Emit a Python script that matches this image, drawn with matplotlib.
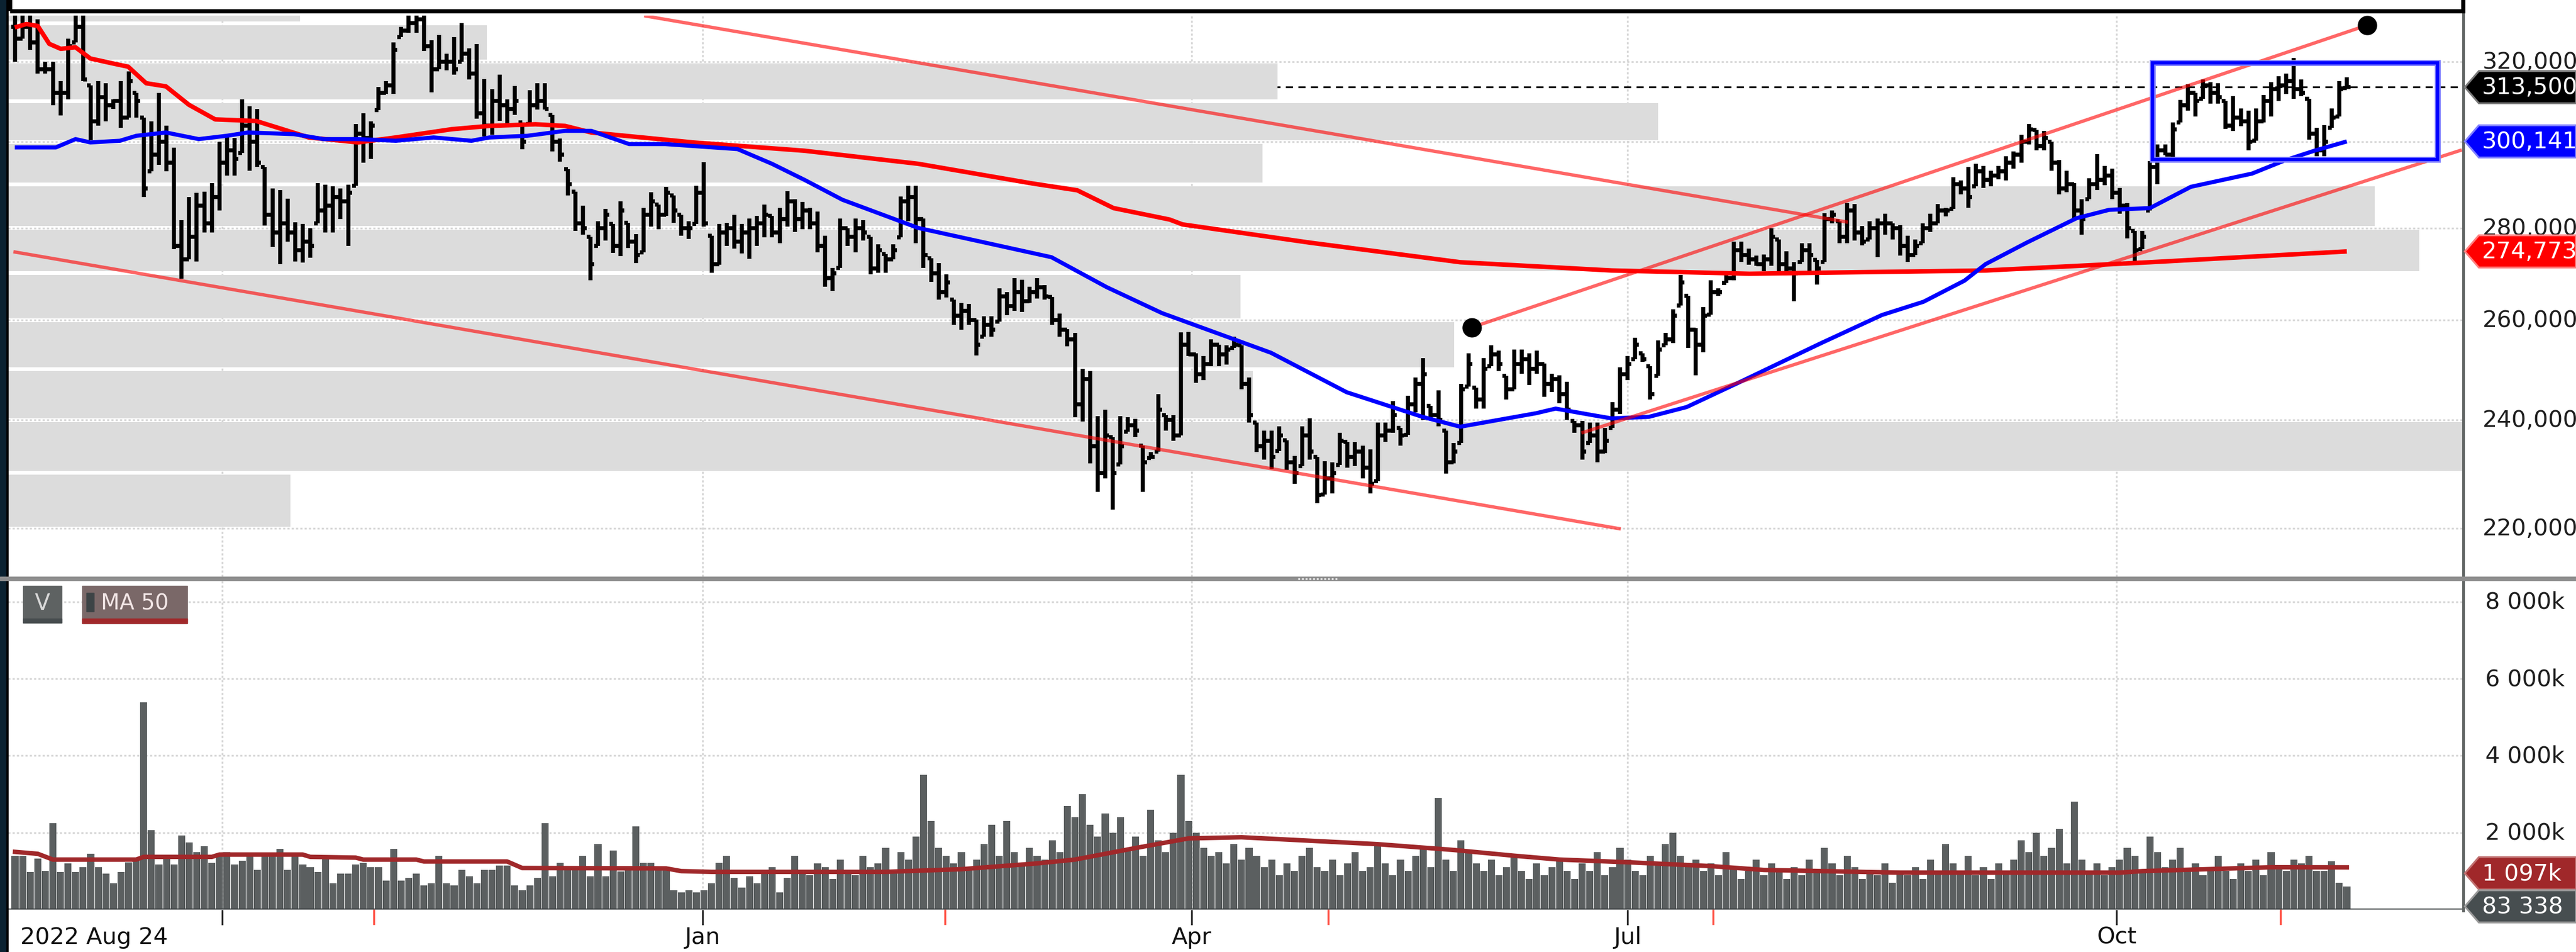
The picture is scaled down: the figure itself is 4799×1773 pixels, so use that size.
import numpy as np
import matplotlib
matplotlib.use("Agg")
import matplotlib.pyplot as plt
from matplotlib.patches import Rectangle, Polygon
from matplotlib.lines import Line2D
import matplotlib.transforms as mtransforms

plt.rcParams['font.family'] = ['DejaVu Sans']

# ---------------- data (prices in thousands) ----------------
high = [333,332,332,331,320,320,315,326,332,332,314,315,314.5,310.5,315,317.5,312,306,305,312,
        304,298.7,281.7,287,288,288.3,290.3,300,301.7,301,310.5,308.7,308,294,289,288.7,286.6,281.3,280.9,280,
        290.3,289.9,289.5,289,289.9,304.3,307,305,313.6,315,325,329,332.5,332.5,332,325.6,327,322,326.4,330,
        323.4,324.5,315.6,313,316.7,310.5,313.8,304.8,312.7,314.5,314.5,306.6,300.8,293.6,288.3,285,278,281.5,284.3,280.9,
        286,281.2,278.6,284.6,288.2,285.3,289.4,287.4,283,281.5,289.7,295.2,278.3,280.9,281.2,283,280.9,282.1,282.7,285.3,
        282.7,284.6,288.4,286.5,285.9,284.6,283.7,278.3,271.2,282.1,279.9,282.1,281.8,278,276.3,274.2,276.3,287.2,289.7,289.7,
        282.1,273.3,272.2,269.8,264.3,263.7,263.4,260.2,260.8,260.8,266.8,265.9,268.9,268.6,267.1,268.9,267.4,264.9,261.4,258.2,
        257.4,250.1,249.6,240.7,242,236.7,240.7,240.5,240.2,235.1,233.9,245,241,241,257.5,257.6,253.2,252.7,256.1,255,
        254.8,256.6,254.8,248.3,239.5,238,238,238.8,236.1,233.2,238.8,240.3,233,232.2,232,237.5,235.8,235.8,235.1,234.4,
        239.5,239.5,243.7,238.5,244.7,248.3,252.2,242.7,245.8,238,235.6,247,253.2,246.3,252.2,254.8,253.7,248.6,254,254,
        253.2,253.7,251.1,249.1,248.8,247.5,239.8,239.8,239.5,239.5,238.5,243.5,250.4,252.7,256.4,253.2,250.6,255.8,257.4,262.3,
        269.6,265.1,258.4,262.8,268.5,266.8,269.6,277,277,275.4,273.8,274.1,279.9,277.4,274.8,272.4,276.6,276.6,272.9,283.4,
        284,281.5,285.7,285.4,280.4,281.5,282.1,283.2,281,280.7,278.2,277.4,281,283.2,285.4,284.6,291.7,290.9,294,294.8,
        294.3,293.1,294.3,296.6,297.7,301.7,304.4,302.9,302.6,300,295.7,293.1,290.3,286.5,291.4,297.1,294.3,293.7,289.2,285.7,
        279.4,279.4,295.4,299.4,299.4,304.7,310.3,314.2,312.1,315.4,314.8,314.5,310,311.2,308.2,307.6,308.2,311.5,314.8,316.3,
        316.9,320.9,315.4,310.6,303.5,304.1,308.2,315.1,316]
low = [320,326,323,317,317,309,306.5,310.5,325,315,300.5,304,305,308,303.5,306,306,287,293,294.5,
       293,275.3,268.8,273,272.6,279,279,284,292,292,297.4,293.2,294,280.5,275.7,272,276.9,272.6,272.3,273.4,
       281,279,279,282,276,289.7,295,296,307.8,311.8,311.8,326.4,327.5,327.5,322.7,312.2,318,317.7,316.7,320,
       315.4,305.7,301.3,301.7,305.2,304.3,306.6,298.3,304.3,307.9,307.9,297.8,295.3,287.4,279.3,278.5,268.5,276,277.2,274.5,
       273.7,275.5,272.2,274.6,280.3,279.7,282.7,281.2,278.2,277.6,280.9,280.3,270.1,271.9,276,275.4,274.3,273.1,276,277.9,
       277.9,276.6,280.3,279.1,279.7,279.7,274.6,267.1,266.2,271.2,276,274.6,277.2,269.8,270.1,270.1,273,277.9,281.5,276.6,
       271.2,268.1,264.3,264.8,259.1,258,259.1,252.8,256.6,256.6,259.7,261.1,262,261.7,263.7,264.6,264.3,259.1,256.6,254.6,
       240.5,239.7,231.8,226.5,229,223.3,231.6,237.7,236.7,226.5,232.8,234,238,236,237,252.7,247.3,247.8,250.6,250.6,
       250.9,254.3,246,239.5,233.9,232.5,230.8,234.1,230.6,228,231.3,232.5,224.5,226.1,226.3,231.5,231,231.3,229,226.3,
       228.5,235.8,237.5,235.1,237.1,241.5,240,240,238.8,229.9,231.8,235.6,246.5,242.2,242.2,250.6,249.6,244,246,249.1,
       246.8,249.1,244.5,245.5,243.2,240,237.5,232.5,235.6,232,233.7,238.5,241.2,247.8,252,251.4,244,248.6,254.8,255.3,
       263.1,254.3,248.8,253.4,261.2,265.1,267.9,268.5,272.5,271.9,271.6,270.4,271.6,270.4,270.4,264,272.4,270.4,267.6,272.4,
       281,276.6,276.6,277.2,276.1,277.4,273.5,278.5,277.4,273.8,272.4,274,276.6,279.1,281,282.6,284.3,287.6,284.6,289.5,
       289.2,289.5,291.1,290.9,293.7,295.1,299.4,298,298,293.1,287.6,288.1,282.1,278.5,286.5,288.7,289.8,286.5,283.2,277.7,
       272.4,275.3,284,290,296.8,295.1,304.7,307.6,306.2,310.6,309.4,309.4,303.2,302.6,303.8,298,300.3,304.7,306.2,310,
       311.8,310.6,311.2,300.6,296.6,296.6,303.5,306.2,313.3]
close = [326,329,325,318,318,312,312,324,329,315.5,305,311,309,310,306,315,310,289,297,300,
         295,276,273,278,285,281,287,295,298,296,304,300,295,283,279,281,279,275,277,276,
         284,285,287,286,288,302,301,304,312,314,323,328,330,331,324,318,320,320,318,322,
         317,307,304,310,309,308,310,300,309,310,308,300,297,290,281,280,272,280,283,276,
         284,277,274,283,286,283,288,284,280,280,288,281,272,279,280,277,279,280,281,283,
         279,282,286,282,284,281,276,269,270,280,278,280,279,271,275,273,275,286,287,282,
         274,270,266,268,261,262,260,255,259,258,265,263,266,264,266,267,265,260,258,256,
         243,248,235,230,237,230,235,239,238,232,233,242,240,237,255,253,249,251,255,253,
         254,255,247,241,235,236,233,237,232,230,237,234,226,229,230,236,233,234,231,228,
         237,238,241,237,243,247,249,241,240,232,234,246,251,244,250,253,251,246,251,252,
         250,251,247,248,245,242,239,234,237,234,236,242,249,251,255,252,245,254,256,261,
         268,258,255,261,266,266,269,275,274,273,272,273,278,272,271,270,275,274,271,282,
         283,278,284,279,277,280,281,281,280,276,274,276,280,281,284,284,290,289,287,293,
         291,292,293,295,297,300,303,299,301,295,289,290,284,282,290,291,292,288,285,280,
         275,278,294,298,297,303,309,312,310,314,312,311,304,306,305,300,305,310,313,314,
         315,313,312,302,298,300,306,313,313.5]
# volume in thousands of shares
volume = [1400,1400,980,1330,1000,2250,980,1200,980,1100,1450,1100,930,680,980,1230,1330,5390,2070,1170,
          1330,1170,1930,1750,1500,1640,1220,1410,1500,1170,1270,1400,1030,1400,1400,1580,1030,1400,1170,1100,
          980,1350,680,930,930,1170,1220,1100,1100,750,1580,750,820,930,630,680,1400,680,630,1030,
          870,680,1030,1030,1150,1140,630,500,630,820,2250,870,1220,1030,1030,1400,870,1700,870,1530,
          990,1030,2170,1220,1220,1030,1030,500,440,500,440,500,680,1220,1400,820,570,870,680,930,
          1100,440,820,1400,1000,900,1200,1100,800,1300,1000,900,1400,1100,1200,1600,1000,1500,1300,1900,
          3500,2300,1600,1400,1200,1500,1100,1300,1700,2200,1400,2300,1500,1200,1600,1400,1300,1800,1500,2700,
          2400,3000,2200,1900,2500,2000,2400,1600,1900,1400,2600,1800,1500,2000,3500,2300,2000,1600,1400,1500,
          1200,1700,1300,1600,1400,1100,1300,900,1200,1000,1400,1600,1100,1000,1300,900,1200,1500,1000,1100,
          1700,1200,900,1300,1000,1400,1600,1100,2900,1300,1000,1800,1500,1200,1000,1300,900,1100,1400,1000,
          800,1200,900,1100,1300,1000,800,1200,1000,1500,900,1100,1600,1300,1000,900,1400,1200,1700,2000,
          1400,1100,1300,1000,1200,900,1500,1100,800,1000,1300,900,1200,1000,800,1100,900,1300,1000,1600,
          1200,900,1400,1100,800,1000,900,1200,700,1000,900,1100,800,1300,1000,1700,1200,1000,1400,900,
          1100,800,1200,1000,1300,1800,1500,2000,1400,1600,2100,1200,2800,1300,1000,1200,900,1100,1300,1600,
          1400,1000,1900,1500,1100,1300,1600,1000,1200,900,1100,1400,1000,800,1200,1000,1300,900,1500,1100,
          1000,1300,1200,1400,1000,1000,1250,700,600]

# moving averages (bar index, value)
ma_fast_idx = [-0.03,5.39,7.99,9.95,13.85,16.02,19.93,24.27,27.95,30.78,36.85,40.76,45.31,50.30,55.29,60.28,62.67,
               67.66,72.65,76.12,81.11,85.88,95.43,99.98,104.3,109.3,119.3,128.2,136.9,144.2,151.5,165.9,175.9,
               185.9,190.9,200.9,203.5,208.5,210.9,215.8,220.8,227.8,238.6,246.6,252.1,257.5,260.3,265.7,272.3,
               276.6,282.0,287.4,295.5,299.8,303.7,308.0]
ma_fast_val = [298.7,298.7,300.7,299.9,300.3,301.5,302.3,300.7,301.5,302.3,301.9,300.7,300.7,300.3,301.1,300.3,301.1,
               301.5,302.7,302.7,299.5,299.5,298.3,294.8,291.0,286.4,280.0,276.7,273.5,267.0,261.5,253.3,245.4,
               240.6,238.7,241.3,242.2,240.9,240.3,240.6,242.5,247.4,255.3,261.1,263.9,268.4,272.0,276.7,282.2,
               284.1,284.5,289.4,292.5,295.6,297.9,300.141]
ma_slow_idx = [-0.03,1.49,3.0,4.52,6.04,7.99,9.95,12.98,14.94,17.32,19.93,22.97,26.44,31.86,35.33,38.80,45.31,
               50.30,57.68,62.67,68.74,72.65,76.12,89.57,104.3,119.3,134.3,140.3,145.1,152.5,154.2,171.1,190.9,
               210.9,229.1,260.3,282.0,308.0]
ma_slow_val = [328.9,329.8,329.3,324.6,323.3,323.7,320.8,319.5,318.7,314.5,313.7,309.1,305.5,305.1,303.1,301.1,299.9,
               301.1,303.1,303.9,304.3,303.9,302.3,299.9,297.9,294.8,290.2,288.6,284.5,281.9,280.8,276.7,272.4,
               270.6,269.9,270.6,272.4,274.773]
vol_ma_idx = [0,3,5,16,17,26,27,38,39,45,46,53,54,65,67,86,88,92,115,125,135,140,148,155,162,170,180,190,198,
              204,213,224,231,249,278,281,298,308]
vol_ma_val = [1500,1450,1300,1300,1370,1370,1430,1430,1370,1350,1300,1300,1250,1250,1080,1070,1000,980,980,1050,
              1200,1300,1600,1850,1880,1800,1700,1550,1400,1300,1230,1130,1030,960,960,1000,1100,1097]

# volume-by-price profile: 10k price bins and their relative volume (percent of widest)
profile_lo = [220,230,240,250,260,270,280,290,300,310,320,330]
profile_vol = [11.5,100,50.7,58.9,50.2,98.2,96.4,51.1,67.2,51.7,19.5,11.9]

# drawn trend lines (bar index, price)
trend_lines = [((-0.21, 274.7), (212.1, 219.9)),
               ((83.1, 332.0), (242.1, 281.3)),
               ((192.4, 258.5), (310.7, 329.5)),
               ((206.9, 237.5), (323.2, 298.1))]
pivot_dots = [(192.4, 258.5), (310.7, 329.5)]
range_box = (282.3, 320.0, 295.8, 319.7)   # idx0, idx1, price lo, price hi

price_ticks = [220000, 240000, 260000, 280000, 300000, 320000]
vol_ticks = [2000, 4000, 6000, 8000]
quarter_pos = [27.4, 90.8, 155.4, 213.0, 277.6]
quarter_lab = ['', 'Jan', 'Apr', 'Jul', 'Oct']
event_pos = [47.4, 122.9, 173.5, 224.3, 299.3]
first_date = '2022 Aug 24'
last_vol = 83338

# ---------------- figure ----------------
W, H, DPI = 4799, 1774, 100
fig = plt.figure(figsize=(W / DPI, H / DPI), dpi=DPI)
fig.patch.set_facecolor('white')

def fxp(px):
    return px / W

def fyp(py):
    return 1 - py / H

X0, X1 = 15, 4589
P_TOP, P_BOT = 30, 1075
V_TOP, V_BOT = 1082, 1695
BAR0, STEP = 28, 14.104
xlim = ((X0 - BAR0) / STEP, (X1 - BAR0) / STEP)

ax = fig.add_axes([fxp(X0), fyp(P_BOT), fxp(X1) - fxp(X0), fyp(P_TOP) - fyp(P_BOT)])
vax = fig.add_axes([fxp(X0), fyp(V_BOT), fxp(X1) - fxp(X0), fyp(V_TOP) - fyp(V_BOT)])
for a in (ax, vax):
    a.set_axis_off()
    a.set_xlim(*xlim)
ax.set_yscale('log')
ax.set_ylim(211629, 332050)
vax.set_ylim(0, 8555)

N = len(close)
x = np.arange(N)
hi = np.array(high) * 1000
lo = np.array(low) * 1000
cl = np.array(close) * 1000
op = np.concatenate([[329000], cl[:-1]])
op = np.clip(op, lo, hi)

GRID = '#d6d6d6'
# grid
for p in price_ticks:
    ax.axhline(p, color=GRID, lw=2.4, ls=(0, (1.2, 1.2)), zorder=0.5)
for v in vol_ticks:
    vax.axhline(v, color=GRID, lw=2.4, ls=(0, (1.2, 1.2)), zorder=0.5)
for q in quarter_pos:
    ax.axvline(q, color=GRID, lw=2.4, ls=(0, (1.2, 1.2)), zorder=0.5)
    vax.axvline(q, color=GRID, lw=2.4, ls=(0, (1.2, 1.2)), zorder=0.5)

# last price dashed line
ax.axhline(cl[-1], color='black', lw=2.4, ls=(0, (4, 3)), zorder=0.8)

# volume profile bands
for plo, pv in zip(profile_lo, profile_vol):
    ax.axhspan(plo * 1000 * 1.0015, (plo + 10) * 1000 * 0.9985, xmin=0, xmax=pv / 100,
               facecolor='#dcdcdc', lw=0, zorder=1)

# OHLC bars
BLW = 5.4
ax.vlines(x, lo, hi, color='black', lw=BLW, zorder=3, capstyle='butt')
ax.hlines(op, x - 0.5, x, color='black', lw=BLW, zorder=3, capstyle='butt')
ax.hlines(cl, x, x + 0.5, color='black', lw=BLW, zorder=3, capstyle='butt')

# moving averages
ax.plot(ma_slow_idx, np.array(ma_slow_val) * 1000, color='#ff0000', lw=6, zorder=4, solid_capstyle='butt')
ax.plot(ma_fast_idx, np.array(ma_fast_val) * 1000, color='#0000ff', lw=5.5, zorder=4, solid_capstyle='butt')

# trend lines
for (a0, b0) in trend_lines:
    ax.plot([a0[0], b0[0]], [a0[1] * 1000, b0[1] * 1000], color='#ff0000', alpha=0.6, lw=4.5,
            zorder=5, solid_capstyle='butt')
ax.plot([d[0] for d in pivot_dots], [d[1] * 1000 for d in pivot_dots], 'o', color='black', ms=25,
        zorder=7, clip_on=False)

# range box
i0, i1, r0, r1 = range_box
ax.add_patch(Rectangle((i0, r0 * 1000), i1 - i0, (r1 - r0) * 1000, fill=False, ec='#8080ff', lw=8, zorder=6))
ax.add_patch(Rectangle((i0, r0 * 1000), i1 - i0, (r1 - r0) * 1000, fill=False, ec='#0000ff', lw=4.5, zorder=6))

# volume
vax.bar(x, volume, width=0.93, color='#5b5f60', lw=0, zorder=2)
vax.plot(vol_ma_idx, vol_ma_val, color='#a0282a', lw=6, zorder=3)
vax.axhline(0, color='#3b4042', lw=3.6, zorder=4)

# ---------------- frame decorations ----------------
fig.add_artist(Rectangle((0, 0), fxp(12), 1, transform=fig.transFigure, color='#0b2231', zorder=20))
fig.add_artist(Rectangle((fxp(12), 0), fxp(3), 1, transform=fig.transFigure, color='#000000', zorder=20))
fig.add_artist(Rectangle((fxp(19), fyp(22)), fxp(X1) - fxp(19), fyp(-20) - fyp(22), transform=fig.transFigure,
                         fill=False, ec='black', lw=5.5, zorder=20))
fig.add_artist(Rectangle((0, fyp(1082)), 1, fyp(1075) - fyp(1082), transform=fig.transFigure,
                         color='#8e8e8e', zorder=20))
fig.add_artist(Line2D([fxp(2418), fxp(2494)], [fyp(1078.5)] * 2, transform=fig.transFigure,
                      color='#e6e6e6', lw=2.5, ls=(0, (1, 1)), zorder=21))
fig.add_artist(Line2D([fxp(4589)] * 2, [fyp(0), fyp(1697)], transform=fig.transFigure,
                      color='#5f6362', lw=3.6, zorder=19))

# volume legend boxes
fig.add_artist(Rectangle((fxp(43), fyp(1161)), fxp(72), fyp(1092) - fyp(1161), transform=fig.transFigure,
                         color='#5e6262', zorder=20))
fig.add_artist(Rectangle((fxp(43), fyp(1161)), fxp(72), fyp(1153) - fyp(1161), transform=fig.transFigure,
                         color='#464c4e', zorder=21))
fig.text(fxp(79), fyp(1124), 'V', ha='center', va='center', fontsize=30, color='#d8d8d8', zorder=22)
fig.add_artist(Rectangle((fxp(153), fyp(1162)), fxp(196), fyp(1092) - fyp(1162), transform=fig.transFigure,
                         color='#7a6868', zorder=20))
fig.add_artist(Rectangle((fxp(153), fyp(1162)), fxp(196), fyp(1153) - fyp(1162), transform=fig.transFigure,
                         color='#a0282a', zorder=21))
fig.add_artist(Rectangle((fxp(161), fyp(1140)), fxp(14), fyp(1105) - fyp(1140), transform=fig.transFigure,
                         color='#3d4446', zorder=21))
fig.text(fxp(188), fyp(1124), 'MA 50', ha='left', va='center', fontsize=29, color='#f2e6e6', zorder=22)

# x axis ticks and labels
tx = mtransforms.blended_transform_factory(vax.transData, fig.transFigure)
for q, lab in zip(quarter_pos, quarter_lab):
    fig.add_artist(Line2D([q, q], [fyp(1697), fyp(1722)], transform=tx, color='#262626', lw=2.4, zorder=20))
    if lab:
        fig.text(q, fyp(1746), lab, transform=tx, ha='center', va='center', fontsize=31, color='#111111')
for e in event_pos:
    fig.add_artist(Line2D([e, e], [fyp(1697), fyp(1722)], transform=tx, color='#ff4d40', lw=2.6, zorder=20))
fig.text(fxp(38), fyp(1746), first_date, ha='left', va='center', fontsize=31, color='#111111')

# y axis labels
ty = mtransforms.blended_transform_factory(fig.transFigure, ax.transData)
for p in price_ticks:
    fig.text(fxp(4625), p, f"{p:,}", transform=ty, ha='left', va='center', fontsize=31, color='#1e1e1e', zorder=5)
tyv = mtransforms.blended_transform_factory(fig.transFigure, vax.transData)
for v in vol_ticks:
    fig.text(fxp(4630), v, f"{v:,}".replace(',', ' ') + 'k', transform=tyv, ha='left', va='center',
             fontsize=31, color='#1e1e1e', zorder=5)

inv = fig.transFigure.inverted()

def tag(axis, value, text, fc, ec, tc='white', dy=0):
    yf = inv.transform(axis.transData.transform((0, value)))[1] - dy / H
    hh = 30 / H
    pts = [(fxp(4592), yf), (fxp(4618), yf + hh), (1.0, yf + hh), (1.0, yf - hh), (fxp(4618), yf - hh)]
    fig.add_artist(Polygon(pts, closed=True, transform=fig.transFigure, fc=fc, ec=ec, lw=2.5, zorder=30))
    fig.text(fxp(4624), yf, text, ha='left', va='center', fontsize=31, color=tc, zorder=31)

tag(ax, cl[-1], f"{int(cl[-1]):,}", '#000000', '#7a7a7a')
tag(ax, ma_fast_val[-1] * 1000, f"{int(round(ma_fast_val[-1] * 1000)):,}", '#0000ff', '#8080ff')
tag(ax, ma_slow_val[-1] * 1000, f"{int(round(ma_slow_val[-1] * 1000)):,}", '#ff0000', '#ff8080')
tag(vax, vol_ma_val[-1], f"{vol_ma_val[-1]:,}".replace(',', ' ') + 'k', '#a0282a', '#c07070', dy=11)
tag(vax, last_vol / 1000, f"{last_vol:,}".replace(',', ' '), '#474e50', '#9a9a9a', dy=0)

fig.savefig('out.png', dpi=DPI, facecolor='white')
